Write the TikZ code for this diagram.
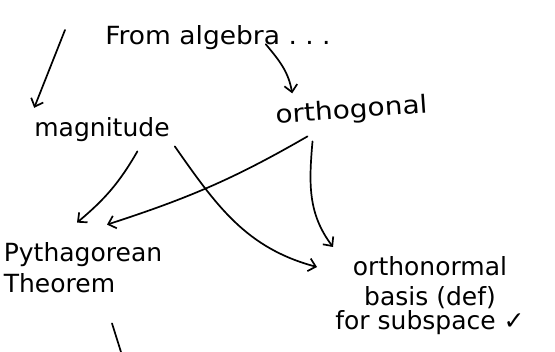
\documentclass[tikz,border=0pt]{standalone}
\usepackage{fontspec}
\setmainfont{DejaVu Sans}
\usetikzlibrary{arrows.meta}
\begin{document}
\begin{tikzpicture}[x=1pt,y=-1pt,
    word/.style={font=\fontsize{25}{30}\selectfont, inner sep=2pt},
    arr/.style={-{Straight Barb[length=7pt,width=13pt]}, line width=1.7pt, line cap=round},
    stroke/.style={line width=1.7pt, line cap=round}]
    \useasboundingbox (0,0) rectangle (555,352);
    \node[word, anchor=base, text depth=0pt, xscale=1.06] (from) at (218,45) {From algebra\ .\ .\ .};
    \node[word, anchor=base] (mag) at (102,137) {magnitude};
    \node[word, anchor=base, rotate=4, xscale=1.12] (orth) at (352,118) {orthogonal};
    \node[word, align=left] (pyth) at (83,268) {Pythagorean\\[1pt]Theorem};
    \node[word, align=center, anchor=north] (onb) at (430,254) {orthonormal\\basis (def)\\[-6pt]for subspace ✓};
    \coordinate (lt) at (65,30);
    \coordinate (tail) at (121,352);
    \draw[arr] (lt) -- ([xshift=2pt,yshift=8pt]mag.north west);
    \draw[arr] ([xshift=-6pt,yshift=3pt]from.-13) to[out=-50,in=100] ([xshift=20pt,yshift=9pt]orth.north west);
    \draw[arr] ([yshift=-7pt]mag.-22) to[out=-120,in=40] ([xshift=-6pt,yshift=18pt]pyth.north);
    \draw[arr] ([xshift=3pt,yshift=-2pt]mag.south east) to[out=-55,in=165] ([xshift=-113pt,yshift=-13pt]onb.north);
    \draw[arr] ([xshift=-45pt,yshift=-11pt]orth.south) to[out=-150,in=18] ([xshift=24pt,yshift=16pt]pyth.north);
    \draw[arr] ([xshift=-40pt,yshift=-16pt]orth.south) to[out=-95,in=127] ([xshift=-97pt,yshift=7pt]onb.north);
    \draw[stroke] ([xshift=29pt,yshift=-28pt]pyth.south) -- (tail);
\end{tikzpicture}
\end{document}
